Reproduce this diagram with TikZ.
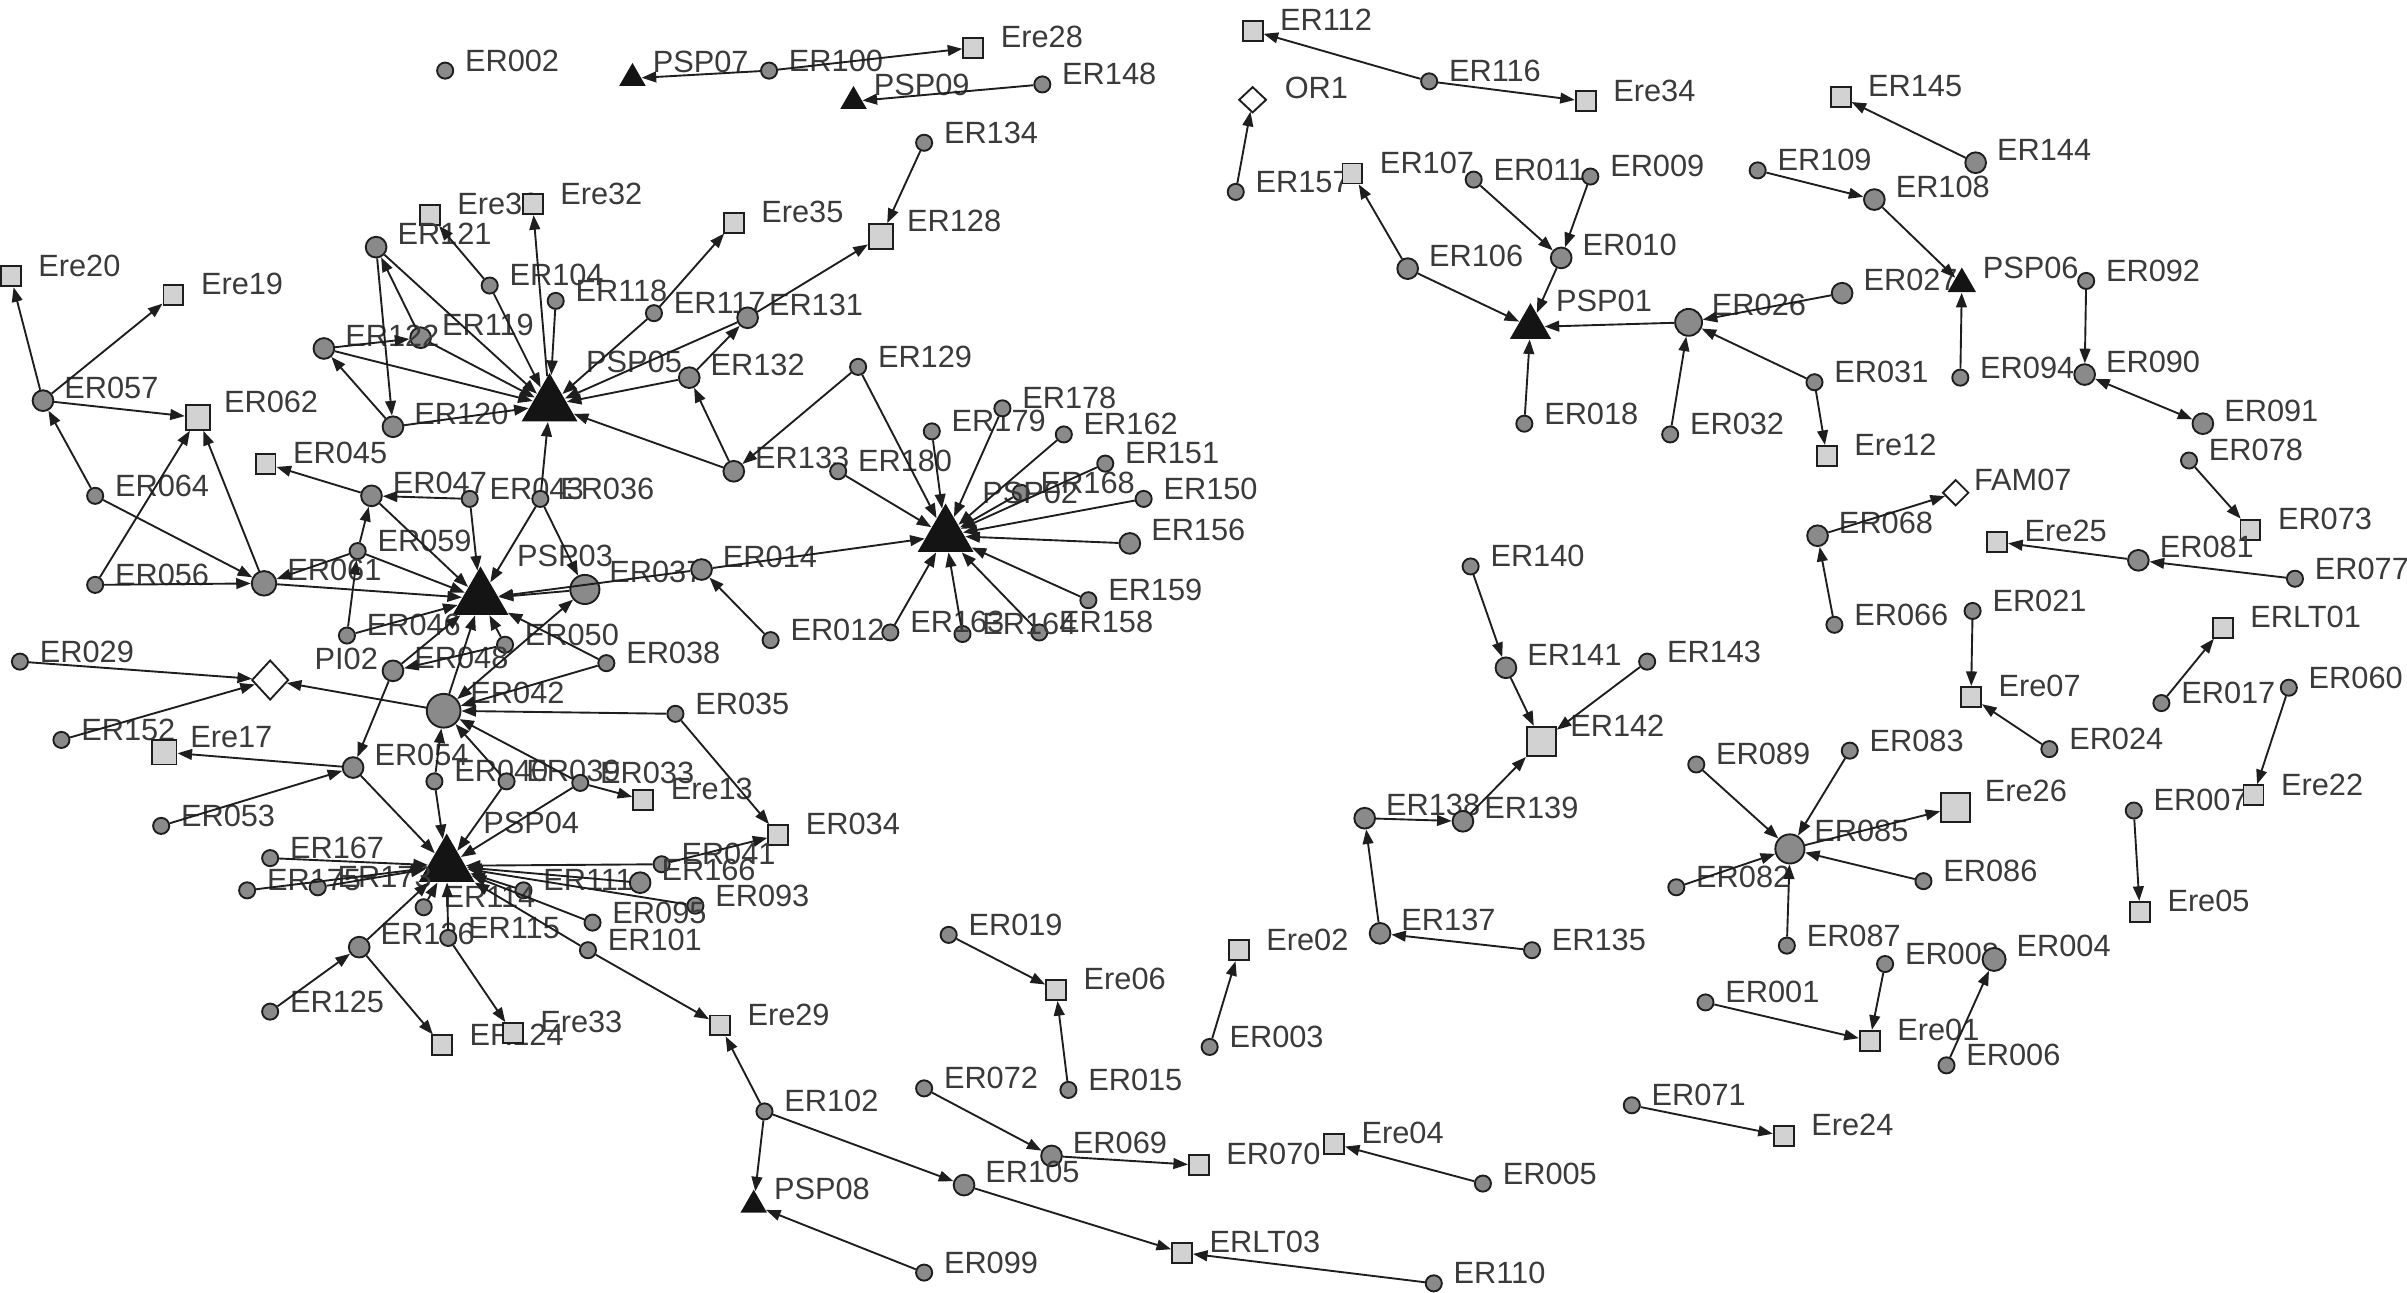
\documentclass[tikz,border=0pt]{standalone}
\usepackage{fontspec}
\setmainfont{Liberation Sans}
\usepackage{tikz}
\usetikzlibrary{shapes.geometric, arrows.meta}
\definecolor{linec}{HTML}{1E1E1E}
\definecolor{vfill}{HTML}{8A8A8A}
\definecolor{sqfill}{HTML}{D2D2D2}
\definecolor{txtc}{HTML}{3A3A3A}
\definecolor{trifill}{HTML}{141414}
\newcommand\lblfont{\fontsize{11.4}{13}\selectfont}

\begin{document}
\begin{tikzpicture}[x=0.02cm, y=-0.02cm,
    vtx/.style={circle, draw=linec, fill=vfill, line width=0.7pt, inner sep=0pt},
    er/.style={vtx, minimum size=0.21cm, label={[txs]0:#1}},
    erm/.style={vtx, minimum size=0.27cm, label={[txm]0:#1}},
    erb/.style={vtx, minimum size=0.38cm, label={[txb]0:#1}},
    box/.style={rectangle, draw=linec, fill=sqfill, line width=0.7pt, inner sep=0pt},
    ere/.style={box, minimum size=0.26cm, label={[txq]0:#1}},
    erem/.style={box, minimum size=0.32cm, label={[txqm]0:#1}},
    ereb/.style={box, minimum size=0.38cm, label={[txqb]0:#1}},
    tri/.style={regular polygon, regular polygon sides=3, fill=trifill, inner sep=0pt},
    psp/.style={tri, minimum size=0.84cm, label={[txp]0:#1}},
    pspm/.style={tri, minimum size=0.62cm, label={[txpm]0:#1}},
    psps/.style={tri, minimum size=0.4cm, label={[txps]0:#1}},
    orn/.style={diamond, draw=linec, fill=white, line width=0.7pt, inner sep=0pt, aspect=1},
    tx/.style={font=\lblfont, text=txtc, inner sep=0pt},
    txs/.style={tx, xshift=0.135cm, yshift=0.132cm},
    txm/.style={tx, xshift=0.125cm, yshift=0.17cm},
    txb/.style={tx, xshift=0.11cm, yshift=0.23cm},
    txq/.style={tx, xshift=0.21cm, yshift=0.14cm},
    txqm/.style={tx, xshift=0.16cm, yshift=0.2cm},
    txqb/.style={tx, xshift=0.17cm, yshift=0.21cm},
    txp/.style={tx, xshift=0.22cm, yshift=0.56cm},
    txpm/.style={tx, xshift=0.14cm, yshift=0.34cm},
    txps/.style={tx, xshift=0.134cm, yshift=0.21cm},
    arr/.style={draw=linec, line width=0.7pt, -{Triangle[length=0.19cm, width=0.14cm]}},
    arrb/.style={arr, {Triangle[length=0.19cm, width=0.14cm]}-{Triangle[length=0.19cm, width=0.14cm]}}]

    \useasboundingbox (0,0) rectangle (1568,842);

    % left part
    \node[er=ER002] (ER002) at (290,46) {};
    \node[psps=PSP07] (PSP07) at (412,51) {};
    \node[er=ER100] (ER100) at (501,46) {};
    \node[ere=Ere28] (Ere28) at (634,31) {};
    \node[er=ER148] (ER148) at (679,55) {};
    \node[psps=PSP09] (PSP09) at (556,66) {};
    \node[er=ER134] (ER134) at (602,93) {};
    \node[erem=ER128] (ER128) at (574,154) {};
    \node[ere=Ere35] (Ere35) at (478,145) {};
    \node[ere=Ere30] (Ere30) at (280,140) {};
    \node[ere=Ere32] (Ere32) at (347,133) {};
    \node[erm=ER121] (ER121) at (245,161) {};
    \node[er=ER104] (ER104) at (319,186) {};
    \node[er=ER118] (ER118) at (362,196) {};
    \node[er=ER117] (ER117) at (426,204) {};
    \node[erm=ER131] (ER131) at (487,207) {};
    \node[erm=ER119] (ER119) at (274,220) {};
    \node[erm=ER122] (ER122) at (211,227) {};
    \node[psp=PSP05] (PSP05) at (358,264) {};
    \node[erm=ER132] (ER132) at (449,246) {};
    \node[ere=Ere20] (Ere20) at (7,180) {};
    \node[ere=Ere19] (Ere19) at (113,192) {};
    \node[erm=ER057] (ER057) at (28,261) {};
    \node[erem=ER062] (ER062) at (129,272) {};
    \node[erm=ER120] (ER120) at (256,278) {};
    \node[ere=ER045] (ER045) at (173,302) {};
    \node[er=ER064] (ER064) at (62,323) {};
    \node[erm=ER047] (ER047) at (242,323) {};
    \node[er=ER043] (ER043) at (306,325) {};
    \node[er=ER036] (ER036) at (352,325) {};
    \node[er=ER059] (ER059) at (233,359) {};
    \node[er=ER056] (ER056) at (62,381) {};
    \node[erm=ER061, minimum size=0.32cm] (ER061) at (172,380) {};
    \node[psp=PSP03] (PSP03) at (313,390) {};
    \node[erb=ER037] (ER037) at (381,384) {};
    \node[erm=ER014] (ER014) at (457,371) {};
    \node[er=ER046] (ER046) at (226,414) {};
    \node[er=ER012] (ER012) at (502,417) {};
    \node[er=ER050] (ER050) at (329,420) {};
    \node[er=ER038] (ER038) at (395,432) {};
    \node[er=ER029] (ER029) at (13,431) {};
    \node[orn, minimum width=0.48cm, minimum height=0.52cm,
        label={[tx, xshift=0.32cm, yshift=0.27cm]0:PI02}] (PI02) at (176,443) {};
    \node[erm=ER048] (ER048) at (256,437) {};
    \node[erb=ER042, minimum size=0.44cm] (ER042) at (289,463) {};
    \node[er=ER035] (ER035) at (440,465) {};
    \node[er=ER152] (ER152) at (40,482) {};
    \node[erem=Ere17] (Ere17) at (107,490) {};
    \node[erm=ER054] (ER054) at (230,500) {};
    \node[er=ER040] (ER040) at (283,509) {};
    \node[er=ER039] (ER039) at (330,509) {};
    \node[er=ER033] (ER033) at (378,510) {};
    \node[ere=Ere13] (Ere13) at (419,521) {};
    \node[er=ER053] (ER053) at (105,538) {};
    \node[psp=PSP04] (PSP04) at (291,564) {};
    \node[ere=ER034] (ER034) at (507,544) {};
    \node[er=ER167] (ER167) at (176,559) {};
    \node[er=ER041] (ER041) at (431,563) {};
    \node[er=ER175] (ER175) at (161,580) {};
    \node[er=ER173] (ER173) at (207,578) {};
    \node[er=ER111] (ER111) at (341,580) {};
    \node[erm=ER166] (ER166) at (417,575) {};
    \node[er=ER114] (ER114) at (276,591) {};
    \node[er=ER093] (ER093) at (453,590) {};
    \node[er=ER095] (ER095) at (386,601) {};
    \node[erm=ER126] (ER126) at (234,617) {};
    \node[er=ER115] (ER115) at (292,611) {};
    \node[er=ER101] (ER101) at (383,619) {};
    \node[er=ER125] (ER125) at (176,659) {};
    \node[ere=Ere29] (Ere29) at (469,668) {};
    \node[ere=ER124] (ER124) at (288,681) {};
    \node[ere=Ere33] (Ere33) at (334,673) {};
    \node[er=ER102] (ER102) at (498,724) {};
    \node[psps=PSP08] (PSP08) at (491,785) {};
    \node[er=ER099] (ER099) at (602,829) {};

    % middle part
    \node[er=ER129] (ER129) at (559,239) {};
    \node[erm=ER133] (ER133) at (478,307) {};
    \node[er=ER180] (ER180) at (546,307) {};
    \node[er=ER179] (ER179) at (607,281) {};
    \node[er=ER178] (ER178) at (653,266) {};
    \node[er=ER162] (ER162) at (693,283) {};
    \node[er=ER151] (ER151) at (720,302) {};
    \node[er=ER168] (ER168) at (665,321) {};
    \node[psp=PSP02] (PSP02) at (616,349) {};
    \node[er=ER150] (ER150) at (745,325) {};
    \node[erm=ER156] (ER156) at (736,354) {};
    \node[er=ER159] (ER159) at (709,391) {};
    \node[er=ER158] (ER158) at (677,412) {};
    \node[er=ER164] (ER164) at (627,413) {};
    \node[er=ER163] (ER163) at (580,412) {};
    \node[er=ER019] (ER019) at (618,609) {};
    \node[ere=Ere06] (Ere06) at (688,645) {};
    \node[er=ER072] (ER072) at (602,709) {};
    \node[er=ER015] (ER015) at (696,710) {};
    \node[erm=ER069] (ER069) at (685,753) {};
    \node[ere=ER070] (ER070) at (781,759) {};
    \node[erm=ER105] (ER105) at (628,772) {};
    \node[ere=ERLT03] (ERLT03) at (770,816) {};
    \node[er=ER110] (ER110) at (934,836) {};
    \node[ere=Ere02] (Ere02) at (807,619) {};
    \node[er=ER003] (ER003) at (788,682) {};
    \node[ere=Ere04] (Ere04) at (869,745) {};
    \node[er=ER005] (ER005) at (966,771) {};
    \node[erm=ER137] (ER137) at (899,608) {};
    \node[er=ER135] (ER135) at (998,619) {};
    \node[erm=ER138] (ER138) at (889,533) {};
    \node[erm=ER139] (ER139) at (953,535) {};
    \node[ereb=ER142] (ER142) at (1004,483) {};
    \node[erm=ER141] (ER141) at (981,435) {};
    \node[er=ER140] (ER140) at (958,369) {};
    \node[er=ER143] (ER143) at (1073,431) {};

    % right part
    \node[ere=ER112] (ER112) at (816,20) {};
    \node[er=ER116] (ER116) at (931,53) {};
    \node[ere=Ere34] (Ere34) at (1033,66) {};
    \node[orn, minimum width=0.36cm, minimum height=0.34cm,
        label={[tx, xshift=0.22cm, yshift=0.15cm]0:OR1}] (OR1) at (816,65) {};
    \node[er=ER157] (ER157) at (805,125) {};
    \node[ere=ER107] (ER107) at (881,113) {};
    \node[er=ER011] (ER011) at (960,117) {};
    \node[er=ER009] (ER009) at (1036,115) {};
    \node[erm=ER106] (ER106) at (917,175) {};
    \node[erm=ER010] (ER010) at (1017,168) {};
    \node[pspm=PSP01] (PSP01) at (997,213) {};
    \node[er=ER018] (ER018) at (993,276) {};
    \node[erb=ER026, minimum size=0.35cm] (ER026) at (1100,210) {};
    \node[erm=ER027] (ER027) at (1200,191) {};
    \node[er=ER032] (ER032) at (1088,283) {};
    \node[er=ER031] (ER031) at (1182,249) {};
    \node[ere=Ere12] (Ere12) at (1190,297) {};
    \node[ere=ER145] (ER145) at (1199,63) {};
    \node[erm=ER144] (ER144) at (1287,106) {};
    \node[er=ER109] (ER109) at (1145,111) {};
    \node[erm=ER108] (ER108) at (1221,130) {};
    \node[psps=PSP06, minimum size=0.43cm] (PSP06) at (1278,185) {};
    \node[er=ER092] (ER092) at (1359,183) {};
    \node[er=ER094] (ER094) at (1277,246) {};
    \node[erm=ER090] (ER090) at (1358,244) {};
    \node[erm=ER091] (ER091) at (1435,276) {};
    \node[er=ER078] (ER078) at (1426,300) {};
    \node[orn, minimum width=0.34cm, minimum height=0.34cm,
        label={[tx, xshift=0.05cm, yshift=0.17cm]0:FAM07}] (FAM07) at (1274,321) {};
    \node[ere=ER073] (ER073) at (1466,345) {};
    \node[erm=ER068] (ER068) at (1184,349) {};
    \node[ere=Ere25] (Ere25) at (1301,353) {};
    \node[erm=ER081] (ER081) at (1393,365) {};
    \node[er=ER077] (ER077) at (1495,377) {};
    \node[er=ER066] (ER066) at (1195,407) {};
    \node[er=ER021] (ER021) at (1285,398) {};
    \node[ere=ERLT01] (ERLT01) at (1448,409) {};
    \node[er=ER017] (ER017) at (1408,458) {};
    \node[er=ER060] (ER060) at (1491,448) {};
    \node[ere=Ere07] (Ere07) at (1284,454) {};
    \node[er=ER024] (ER024) at (1335,488) {};
    \node[er=ER089] (ER089) at (1105,498) {};
    \node[er=ER083] (ER083) at (1205,489) {};
    \node[ereb=Ere26] (Ere26) at (1274,526) {};
    \node[er=ER007] (ER007) at (1390,528) {};
    \node[ere=Ere22] (Ere22) at (1468,518) {};
    \node[erb=ER085] (ER085) at (1166,553) {};
    \node[er=ER082] (ER082) at (1092,578) {};
    \node[er=ER086] (ER086) at (1253,574) {};
    \node[ere=Ere05] (Ere05) at (1394,594) {};
    \node[er=ER087] (ER087) at (1164,616) {};
    \node[er=ER008] (ER008) at (1228,628) {};
    \node[erm=ER004, minimum size=0.3cm] (ER004) at (1299,625) {};
    \node[er=ER001] (ER001) at (1111,653) {};
    \node[ere=Ere01] (Ere01) at (1218,678) {};
    \node[er=ER006] (ER006) at (1268,694) {};
    \node[er=ER071] (ER071) at (1063,720) {};
    \node[ere=Ere24] (Ere24) at (1162,740) {};

    % links, left part
    \draw[arr] (ER100) -- (PSP07);
    \draw[arr] (ER100) -- (Ere28);
    \draw[arr] (ER148) -- (PSP09);
    \draw[arr] (ER134) -- (ER128);
    \draw[arr] (ER131) -- (ER128);
    \draw[arr] (ER057) -- (Ere20);
    \draw[arr] (ER057) -- (Ere19);
    \draw[arr] (ER057) -- (ER062);
    \draw[arr] (ER064) -- (ER057);
    \draw[arr] (ER064) -- (ER061);
    \draw[arr] (ER056) -- (ER062);
    \draw[arr] (ER056) -- (ER061);
    \draw[arr] (ER061) -- (ER062);
    \draw[arr] (ER061) -- (PSP03);
    \draw[arr] (ER059) -- (ER061);
    \draw[arr] (ER059) -- (PSP03);
    \draw[arr] (ER046) -- (ER059);
    \draw[arr] (ER059) -- (ER047);
    \draw[arr] (ER046) -- (PSP03);
    \draw[arr] (ER047) -- (ER045);
    \draw[arr] (ER043) -- (ER047);
    \draw[arr] (ER047) -- (PSP03);
    \draw[arr] (ER043) -- (PSP03);
    \draw[arr] (ER036) -- (PSP03);
    \draw[arr] (ER036) -- (ER037);
    \draw[arr] (ER036) -- (PSP05);
    \draw[arr] (ER037) -- (PSP03);
    \draw[arr] (ER014) -- (PSP03);
    \draw[arr] (ER014) -- (PSP02);
    \draw[arr] (ER012) -- (ER014);
    \draw[arr] (ER050) -- (PSP03);
    \draw[arr] (ER050) -- (ER048);
    \draw[arr] (ER038) -- (PSP03);
    \draw[arr] (ER038) -- (ER042);
    \draw[arr] (ER042) -- (PSP03);
    \draw[arr] (ER048) -- (PSP03);
    \draw[arr] (ER048) -- (ER054);
    \draw[arrb] (ER042) -- (ER037);
    \draw[arr] (ER035) -- (ER042);
    \draw[arr] (ER035) -- (ER034);
    \draw[arr] (ER040) -- (ER042);
    \draw[arr] (ER039) -- (ER042);
    \draw[arr] (ER033) -- (ER042);
    \draw[arr] (ER042) -- (PI02);
    \draw[arr] (ER029) -- (PI02);
    \draw[arr] (ER152) -- (PI02);
    \draw[arr] (ER054) -- (Ere17);
    \draw[arr] (ER053) -- (ER054);
    \draw[arr] (ER054) -- (PSP04);
    \draw[arr] (ER040) -- (PSP04);
    \draw[arr] (ER039) -- (PSP04);
    \draw[arr] (ER033) -- (PSP04);
    \draw[arr] (ER033) -- (Ere13);
    \draw[arr] (ER167) -- (PSP04);
    \draw[arr] (ER175) -- (PSP04);
    \draw[arr] (ER173) -- (PSP04);
    \draw[arr] (ER041) -- (PSP04);
    \draw[arr] (ER041) -- (ER034);
    \draw[arr] (ER166) -- (PSP04);
    \draw[arr] (ER111) -- (PSP04);
    \draw[arr] (ER095) -- (PSP04);
    \draw[arr] (ER093) -- (PSP04);
    \draw[arr] (ER114) -- (PSP04);
    \draw[arr] (ER126) -- (PSP04);
    \draw[arr] (ER115) -- (PSP04);
    \draw[arr] (ER101) -- (PSP04);
    \draw[arr] (ER125) -- (ER126);
    \draw[arr] (ER126) -- (ER124);
    \draw[arr] (ER115) -- (Ere33);
    \draw[arr] (ER101) -- (Ere29);
    \draw[arr] (ER102) -- (Ere29);
    \draw[arr] (ER102) -- (PSP08);
    \draw[arr] (ER099) -- (PSP08);
    \draw[arr] (ER102) -- (ER105);
    \draw[arr] (ER121) -- (PSP05);
    \draw[arr] (ER121) -- (ER120);
    \draw[arr] (ER119) -- (ER121);
    \draw[arr] (ER122) -- (ER119);
    \draw[arr] (ER122) -- (PSP05);
    \draw[arr] (ER120) -- (ER122);
    \draw[arr] (ER120) -- (PSP05);
    \draw[arr] (ER119) -- (PSP05);
    \draw[arr] (ER104) -- (PSP05);
    \draw[arr] (ER104) -- (Ere30);
    \draw[arr] (PSP05) -- (Ere32);
    \draw[arr] (ER118) -- (PSP05);
    \draw[arr] (ER117) -- (PSP05);
    \draw[arr] (ER117) -- (Ere35);
    \draw[arr] (ER131) -- (PSP05);
    \draw[arr] (ER132) -- (ER131);
    \draw[arr] (ER132) -- (PSP05);
    \draw[arr] (ER133) -- (PSP05);
    \draw[arr] (ER133) -- (ER132);

    % links, middle part
    \draw[arr] (ER129) -- (ER133);
    \draw[arr] (ER129) -- (PSP02);
    \draw[arr] (ER180) -- (PSP02);
    \draw[arr] (ER179) -- (PSP02);
    \draw[arr] (ER178) -- (PSP02);
    \draw[arr] (ER162) -- (PSP02);
    \draw[arr] (ER151) -- (PSP02);
    \draw[arr] (ER168) -- (PSP02);
    \draw[arr] (ER150) -- (PSP02);
    \draw[arr] (ER156) -- (PSP02);
    \draw[arr] (ER159) -- (PSP02);
    \draw[arr] (ER158) -- (PSP02);
    \draw[arr] (ER164) -- (PSP02);
    \draw[arr] (ER163) -- (PSP02);
    \draw[arr] (ER105) -- (ERLT03);
    \draw[arr] (ER110) -- (ERLT03);
    \draw[arr] (ER072) -- (ER069);
    \draw[arr] (ER069) -- (ER070);
    \draw[arr] (ER019) -- (Ere06);
    \draw[arr] (ER015) -- (Ere06);
    \draw[arr] (ER003) -- (Ere02);
    \draw[arr] (ER005) -- (Ere04);
    \draw[arr] (ER140) -- (ER141);
    \draw[arr] (ER141) -- (ER142);
    \draw[arr] (ER143) -- (ER142);
    \draw[arr] (ER139) -- (ER142);
    \draw[arr] (ER138) -- (ER139);
    \draw[arr] (ER137) -- (ER138);
    \draw[arr] (ER135) -- (ER137);

    % links, right part
    \draw[arr] (ER116) -- (ER112);
    \draw[arr] (ER116) -- (Ere34);
    \draw[arr] (ER157) -- (OR1);
    \draw[arr] (ER106) -- (ER107);
    \draw[arr] (ER106) -- (PSP01);
    \draw[arr] (ER011) -- (ER010);
    \draw[arr] (ER009) -- (ER010);
    \draw[arr] (ER010) -- (PSP01);
    \draw[arr] (ER018) -- (PSP01);
    \draw[arr] (ER026) -- (PSP01);
    \draw[arr] (ER027) -- (ER026);
    \draw[arr] (ER031) -- (ER026);
    \draw[arr] (ER032) -- (ER026);
    \draw[arr] (ER031) -- (Ere12);
    \draw[arr] (ER144) -- (ER145);
    \draw[arr] (ER109) -- (ER108);
    \draw[arr] (ER108) -- (PSP06);
    \draw[arr] (ER094) -- (PSP06);
    \draw[arr] (ER092) -- (ER090);
    \draw[arrb] (ER090) -- (ER091);
    \draw[arr] (ER078) -- (ER073);
    \draw[arr] (ER068) -- (FAM07);
    \draw[arr] (ER066) -- (ER068);
    \draw[arr] (ER081) -- (Ere25);
    \draw[arr] (ER077) -- (ER081);
    \draw[arr] (ER021) -- (Ere07);
    \draw[arr] (ER024) -- (Ere07);
    \draw[arr] (ER017) -- (ERLT01);
    \draw[arr] (ER060) -- (Ere22);
    \draw[arr] (ER007) -- (Ere05);
    \draw[arr] (ER089) -- (ER085);
    \draw[arr] (ER083) -- (ER085);
    \draw[arr] (ER085) -- (Ere26);
    \draw[arr] (ER086) -- (ER085);
    \draw[arr] (ER082) -- (ER085);
    \draw[arr] (ER087) -- (ER085);
    \draw[arr] (ER008) -- (Ere01);
    \draw[arr] (ER001) -- (Ere01);
    \draw[arr] (ER006) -- (ER004);
    \draw[arr] (ER071) -- (Ere24);
\end{tikzpicture}
\end{document}
